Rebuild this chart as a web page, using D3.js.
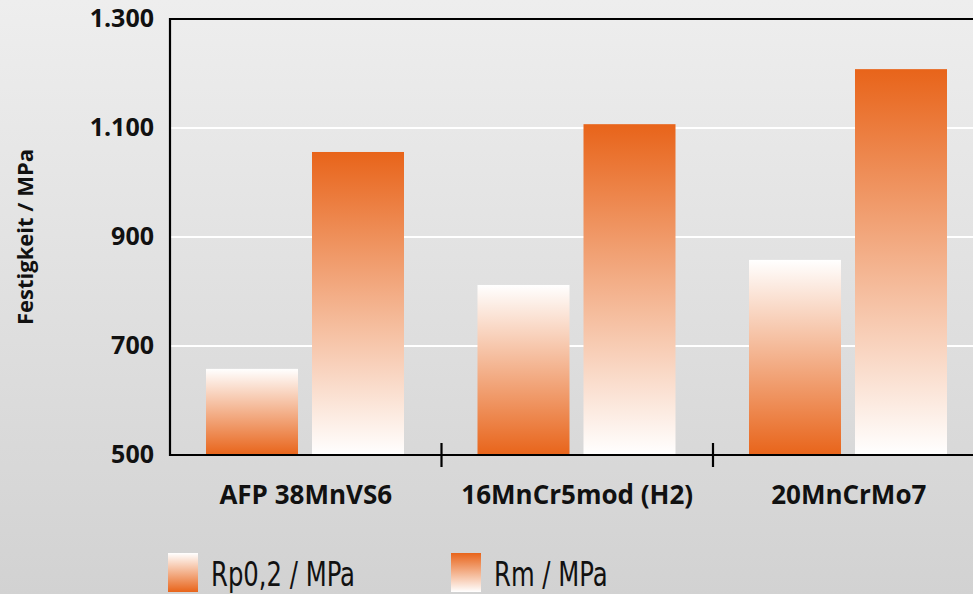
<!DOCTYPE html>
<html><head><meta charset="utf-8">
<script src="https://cdn.jsdelivr.net/npm/d3@7"></script>
<style>html,body{margin:0;padding:0;overflow:hidden}svg{display:block}</style>
</head><body>
<script>
const categories = ["AFP 38MnVS6", "16MnCr5mod (H2)", "20MnCrMo7"];
const seriesNames = ["Rp0,2 / MPa", "Rm / MPa"];
const rpValues = [658, 812, 858];
const rmValues = [1056, 1107, 1208];
const yTicks = [500, 700, 900, 1100, 1300];
const yTickLabels = ["500", "700", "900", "1.100", "1.300"];
const yTitle = "Festigkeit / MPa";

(function(){
const W = 973, H = 594;
const orange = "#e8641a";
const svg = d3.select("body").append("svg").attr("width", W).attr("height", H);
const defs = svg.append("defs");
const bg = defs.append("linearGradient").attr("id","bg").attr("x1",0).attr("y1",0).attr("x2",0).attr("y2",1);
bg.append("stop").attr("offset","0%").attr("stop-color","#eeeeee");
bg.append("stop").attr("offset","100%").attr("stop-color","#d2d2d2");
const gUp = defs.append("linearGradient").attr("id","gUp").attr("x1",0).attr("y1",0).attr("x2",0).attr("y2",1);
gUp.append("stop").attr("offset","0%").attr("stop-color","#ffffff");
gUp.append("stop").attr("offset","100%").attr("stop-color",orange);
const gDown = defs.append("linearGradient").attr("id","gDown").attr("x1",0).attr("y1",0).attr("x2",0).attr("y2",1);
gDown.append("stop").attr("offset","0%").attr("stop-color",orange);
gDown.append("stop").attr("offset","100%").attr("stop-color","#ffffff");
const fills = ["url(#gUp)", "url(#gDown)"];

svg.append("rect").attr("width",W).attr("height",H).attr("fill","url(#bg)");

const pLeft = 170, pRight = 984.5, pTop = 19, pBottom = 455;
const y = d3.scaleLinear().domain([500,1300]).range([pBottom, pTop]);
const x0 = d3.scaleBand().domain(categories).range([pLeft, pRight]).paddingInner(0).paddingOuter(0);
const x1 = d3.scaleBand().domain(seriesNames).range([36, 234]).paddingInner(0.132).paddingOuter(0);

// gridlines
svg.append("g").selectAll("line").data(yTicks.slice(1,-1)).join("line")
  .attr("x1",pLeft).attr("x2",W).attr("y1",d=>y(d)).attr("y2",d=>y(d))
  .attr("stroke","#ffffff").attr("stroke-width",2.2);

// bars
const data = categories.map((c,i)=>({cat:c, vals:[rpValues[i], rmValues[i]]}));
const g = svg.append("g");
data.forEach(d=>{
  d.vals.forEach((v,j)=>{
    g.append("rect").attr("x", x0(d.cat)+x1(seriesNames[j])).attr("width", x1.bandwidth())
      .attr("y", y(v)).attr("height", y(500)-y(v)).attr("fill", fills[j]);
  });
});

// axes lines
const ax = svg.append("g").attr("stroke","#000").attr("stroke-width",2.2).attr("fill","none");
ax.append("path").attr("d", `M${W+5},${pTop}H${pLeft}V${pBottom}H${W+5}`);
ax.selectAll("line.tk").data(categories.slice(1)).join("line")
  .attr("x1",d=>x0(d)).attr("x2",d=>x0(d)).attr("y1",pBottom-12).attr("y2",pBottom+12);

// y tick labels
svg.append("g").selectAll("text").data(yTicks).join("text")
  .attr("x",154).attr("y",d=>y(d)+8).attr("text-anchor","end")
  .attr("font-family","'Open Sans', sans-serif").attr("font-weight","bold").attr("font-size",25)
  .attr("fill","#111").text((d,i)=>yTickLabels[i]);

// category labels
svg.append("g").selectAll("text").data(categories).join("text")
  .attr("x",d=>x0(d)+x0.bandwidth()/2).attr("y",504).attr("text-anchor","middle")
  .attr("font-family","'Open Sans', sans-serif").attr("font-weight","bold").attr("font-size",26)
  .attr("fill","#111").text(d=>d);

// y title
svg.append("text").attr("transform","translate(33,237) rotate(-90)").attr("text-anchor","middle")
  .attr("font-family","'Open Sans', sans-serif").attr("font-weight","bold")
  .attr("font-size",22).attr("fill","#111").text(yTitle);

// legend
const legX = [168, 451];
seriesNames.forEach((s,j)=>{
  svg.append("rect").attr("x",legX[j]).attr("y",553).attr("width",30).attr("height",39).attr("fill",fills[j]);
  svg.append("text").attr("transform",`translate(${legX[j]+43},586) scale(0.82,1)`)
    .attr("font-family","'Liberation Sans Narrow', 'DejaVu Sans Condensed', sans-serif")
    .attr("font-size",33).attr("fill","#111").text(s);
});
})();
</script>
</body></html>
